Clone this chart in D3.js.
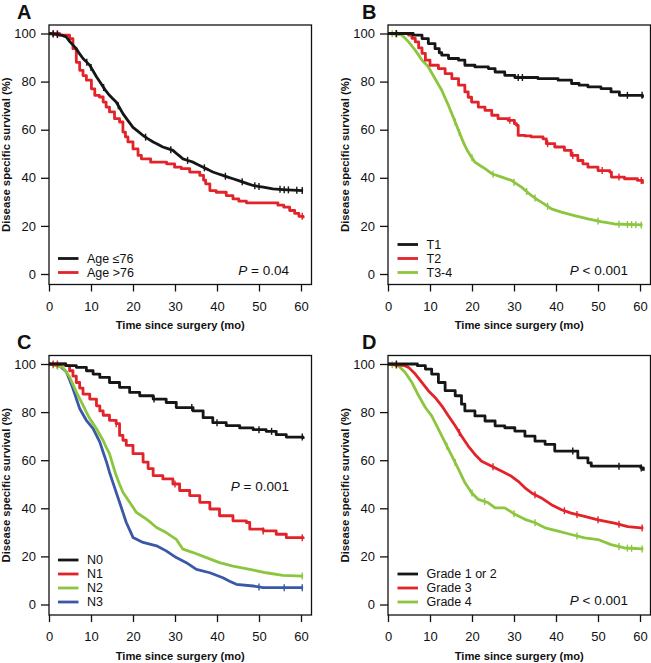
<!DOCTYPE html>
<html><head><meta charset="utf-8">
<script src="https://cdn.jsdelivr.net/npm/d3@7"></script>
<style>
body{margin:0;background:#fff}
svg{display:block}
text{font-family:"Liberation Sans",Arial,Helvetica,sans-serif;fill:#111}
</style>
</head><body>
<svg id="chart" width="651" height="663"></svg>
<script>
// ---------- data ----------
const xTicks = [0,10,20,30,40,50,60];
const yTicks = [0,20,40,60,80,100];
const xTitle = "Time since surgery (mo)";
const yTitle = "Disease specific survival (%)";
const panelLetters = ["A","B","C","D"];
const pValues = ["= 0.04","< 0.001","= 0.001","< 0.001"];

const legendA = ["Age \u226476","Age >76"];
const legendB = ["T1","T2","T3-4"];
const legendC = ["N0","N1","N2","N3"];
const legendD = ["Grade 1 or 2","Grade 3","Grade 4"];

const colBlack = "#161616", colRed = "#e2232a", colGreen = "#8cc63e", colBlue = "#3b58a8";

// survival curves: [time (mo), survival (%)]
const ageLe76 = [[0,100],[3,99.3],[4.1,98.6],[5,96.5],[6.5,93.7],[7.3,91.5],[8.1,89.6],[8.9,88.2],[9.7,86.8],[10.5,84.4],[11.3,82],[12.1,79.9],[12.9,77.8],[13.6,76],[14.4,74.3],[15.2,72.9],[16,71.5],[16.8,69.1],[17.6,66.7],[18.8,63.8],[20,61],[21.2,59.3],[22.4,57.6],[23.6,56.2],[24.8,54.9],[26,53.8],[27.1,52.8],[28.3,52.1],[29.5,51.4],[30.7,49.6],[31.9,47.9],[33.1,47.2],[34.3,46.5],[35.5,45.4],[36.7,44.4],[37.9,43.4],[39,42.4],[40.2,41.7],[41.4,41],[42.6,40.3],[43.8,39.6],[45,38.9],[46.2,38.2],[47.4,37.5],[48.6,36.8],[49.8,36.4],[51,36.1],[53.3,35.4],[55.7,35.1],[58,34.9],[60.5,34.7]];
const ageGt76 = [[0,100],[2.5,99.3],[4.9,97.9],[5.7,93.7],[6.5,88],[7.3,84.7],[8.1,82.5],[8.9,80.6],[10.1,77],[10.9,74.3],[12,73.6],[12.9,71.5],[13.6,69.4],[14.4,67.4],[15.6,64.6],[16.8,63.2],[17.6,59],[18.2,57],[18.8,54.9],[20,52],[21.2,49.3],[22,47.9],[24.2,46.5],[28,45.8],[29.9,44.4],[31.5,43.8],[33.5,42.4],[35.9,41],[36.8,39],[37.3,37.5],[38.3,34.7],[39.8,34],[42.2,32.6],[43.8,31.2],[45.2,30.3],[47,29.6],[54.5,28.6],[55.9,27.8],[57.3,26.4],[58.5,25.2],[59.5,24],[60.5,23.2]];

const t1 = [[0,100],[6,99.3],[8.1,97.9],[9.6,95.8],[11.2,93.7],[12.2,92],[12.8,91],[14.4,89.6],[16.8,88.9],[18.3,86.8],[20.7,86.1],[23.9,85.4],[25.5,84],[27.8,82.6],[30.2,81.7],[35.7,81.2],[40.5,80.6],[43.7,79.2],[45.5,78.5],[47.6,77.8],[50.7,77.1],[53.1,75.7],[55.1,74.3],[60.6,73.3]];
const t2 = [[0,100],[4.9,99.3],[5.7,98],[6.5,96.5],[7.3,94],[8.1,91.7],[8.9,88.9],[10,86.8],[12,85.4],[13.6,83.3],[15.2,81.2],[16.8,78.5],[18.3,75.7],[19.1,73.5],[19.9,71.5],[21.5,69.4],[23.1,68],[24.7,66],[26.2,64.6],[28.6,63.9],[30.1,62.5],[30.6,61.8],[31,57.6],[32.6,57.4],[34.1,57],[36.9,56.2],[37.7,54.2],[39.7,52.8],[42,51.4],[43.6,49.3],[45.2,47.2],[46.4,45.8],[47.6,44.4],[50,43],[52.8,42.4],[53.2,40.3],[56.3,39.6],[59.4,38.9],[60.6,37.5]];
const t34 = [[0,100],[1.5,99.8],[3.3,99.3],[4.1,98],[4.9,96.5],[5.7,94.8],[6.5,93],[7.3,91],[8.1,88.9],[8.9,87.5],[9.6,86.1],[10.4,83.7],[11.2,81.2],[12,78.8],[12.8,76.4],[13.6,73.2],[14.4,70.1],[15.2,66.6],[16,63.2],[16.8,59.7],[17.6,56.2],[18.3,53.4],[19.1,50.7],[19.9,48.6],[20.7,46.5],[21.9,45.1],[23.1,43.8],[24.7,41.7],[27.1,40.3],[29.4,38.9],[30.6,37.5],[31.8,36.1],[33,34.3],[34.2,32.6],[35.3,31.2],[36.5,29.9],[37.7,28.5],[38.9,27.1],[41.3,25.7],[44.4,24.3],[47.6,22.9],[50.7,21.8],[53.9,20.8],[60.6,20.4]];

const n0 = [[0,100],[4,99.3],[6.5,98.6],[8.9,97.2],[10.5,95.8],[12.1,94.4],[14.4,92.3],[16.8,90.3],[19.2,88.2],[21.6,86.8],[24.8,85.4],[27.9,84],[30.3,81.9],[34.3,80.5],[36.7,77.7],[39,75.6],[42.2,74.4],[45.4,73.4],[48.6,72.7],[51.7,72],[54.1,70.6],[56.5,69.6],[60.5,68.8]];
const n1 = [[0,100],[4,99.3],[4.9,97.2],[5.7,95],[6.5,92.3],[7.3,90],[8.1,87.5],[9.7,85.4],[11.3,82.6],[12.1,80.5],[12.9,78.7],[14.4,76.6],[16,75.2],[16.8,70.3],[17.6,68.3],[18.4,66.2],[20,62.7],[22.4,59.2],[23.6,56.5],[24.8,53.6],[27.1,52.2],[29.5,50.1],[31.1,47.4],[33.5,45.3],[35.9,42.5],[38.3,39.7],[40.6,36.9],[43.8,34.8],[47,34.1],[47.8,31.3],[51,30.6],[54.1,29.2],[56.5,27.8],[60.5,27.2]];
const n2 = [[0,100],[3.3,98.6],[4.1,96.6],[4.9,94.7],[5.7,91.5],[6.5,88.4],[7.3,85.6],[8.1,82.9],[8.9,80],[9.7,77.3],[10.5,75.2],[11.3,73.1],[12.1,70.6],[12.9,68.2],[13.6,65.4],[14.4,62.7],[15.2,58],[16,53.6],[16.8,50],[17.6,46.7],[18.4,44.6],[19.2,42.5],[20,40.4],[20.8,38.3],[22,36.9],[23.2,35.5],[24.4,33.8],[25.6,32],[27.9,29.9],[30.3,27.1],[31.1,25],[31.9,23],[34.3,21.6],[37.5,19.5],[40.6,17.4],[43.8,16],[47.8,14.6],[51.7,13.2],[55.7,12.1],[60.5,11.8]];
const n3 = [[0,100],[2.5,99.3],[4.1,96.8],[4.9,93.5],[5.7,89.8],[6.5,85.6],[7.3,81.5],[8.1,79],[8.9,76.6],[10.5,73.1],[11.3,70.3],[12.1,67.5],[12.9,63.3],[13.7,59.2],[14.4,55],[15.2,50.8],[16,46.6],[16.8,42.5],[17.6,38.3],[18.4,34.1],[19.2,31],[20,27.9],[22.4,25.8],[25.6,24.4],[27.9,22.3],[30.3,19.5],[32.7,17.4],[35.1,14.6],[38.3,13.2],[41.4,11.1],[43,9.7],[44.6,8.4],[48.6,7.7],[51,7],[60.5,7]];

const g12 = [[0,100],[7,99.3],[8.9,97.9],[10.4,95.8],[12,92.3],[13.6,88.9],[16,86.8],[17.5,83.3],[18.3,80.5],[20.7,78.4],[23.1,76.3],[25.5,74.3],[27.8,73.5],[30.2,72.1],[32.6,70],[35,67.9],[37.4,66.6],[39.7,63.8],[45.2,61],[47.6,58.9],[48.4,57.5],[60.2,56.8],[60.8,55.6]];
const g3 = [[0,100],[4,99.3],[4.9,98.6],[6.5,95.8],[8.1,92.3],[9.6,88.9],[11.2,86.1],[12.8,82.6],[14.4,78.4],[16,74.3],[17.5,70.1],[19.1,65.9],[20.7,62.4],[22.3,59.6],[24.7,57.5],[27.1,55.4],[29.4,53.3],[31,51.2],[32.6,48.5],[34.2,46.4],[36.5,44.3],[38.9,41.5],[41.3,39.4],[43.6,38],[46.8,36.6],[50,35.2],[53.9,33.8],[57.1,32.4],[60.8,31.8]];
const g4 = [[0,100],[2.5,99.3],[4.1,96.5],[5.7,92.3],[7.3,86.8],[8.9,81.9],[10.4,78.4],[12,72.9],[13.6,67.3],[15.2,61.8],[16.8,56.2],[18.3,50.7],[19.9,46.5],[21.5,43.7],[23.9,42.3],[25.5,40.2],[27.8,40.2],[30.2,37.5],[32.6,35.4],[35,34],[37.4,31.9],[40.5,30.5],[43.6,29.1],[46.8,27.7],[50,27],[53.1,24.9],[56.3,23.5],[60.8,23.1]];

// censoring times (mo)
const censAgeLe76 = [1,2,9,10,13,16.5,23,29,33,37,42,46,49,50,55,56,57,59,60.3];
const censAgeGt76 = [1,2,60.3];
const censT1 = [2,31,32,57,60.5];
const censT2 = [2,29,38,44,51,55,60.3];
const censT34 = [1,2,16,17,20,25,30,33,35,38,50,55,57,58,59,60.3];
const censN0 = [25,34,40,50,53,60.3];
const censN1 = [1,2,16,30,51,60.3];
const censN2 = [1,2,60.3];
const censN3 = [2,50,56,60.3];
const censG12 = [2,44,55,60.3];
const censG3 = [2,17,25,35,42,45,50,55,60.5];
const censG4 = [1,2,14,16,20,23,30,35,45,55,57,58,60.5];

// ---------- layout / style ----------
// series entries: [curve, colour, censor times, drawn as visible steps?]
const panels = [
  {ox:0,   oy:0,     letterX:17, legend:legendA, series:[[ageLe76,colBlack,censAgeLe76,false],[ageGt76,colRed,censAgeGt76,true]], legY:258.5, legX:58, pY:270},
  {ox:339, oy:0,     letterX:23, legend:legendB, series:[[t1,colBlack,censT1,true],[t2,colRed,censT2,true],[t34,colGreen,censT34,false]], legY:244.5, legX:58.5, pY:270},
  {ox:0,   oy:330.5, letterX:17, legend:legendC, series:[[n0,colBlack,censN0,true],[n1,colRed,censN1,true],[n2,colGreen,censN2,false],[n3,colBlue,censN3,false]], legY:229.5, legX:58, pY:156},
  {ox:339, oy:330.5, letterX:23, legend:legendD, series:[[g12,colBlack,censG12,true],[g3,colRed,censG3,false],[g4,colGreen,censG4,false]], legY:243.5, legX:58.5, pY:270}
];
const box = {l:49, r:311.5, t:25, b:284.5};
const x = d3.scaleLinear().domain([0,62.5]).range([box.l, box.r]);
const y = d3.scaleLinear().domain([0,100]).range([274, 33.5]);

const svg = d3.select("#chart");

function survAt(curve, t, stepped){
  if (stepped){
    let s = curve[0][1];
    for (const [ti,si] of curve){ if (ti <= t) s = si; else break; }
    return s;
  }
  for (let k=1;k<curve.length;k++){
    const [t0,s0]=curve[k-1],[t1_,s1]=curve[k];
    if (t <= t1_) return s0 + (s1-s0)*(t-t0)/(t1_-t0);
  }
  return curve[curve.length-1][1];
}

panels.forEach((p,i)=>{
  const g = svg.append("g").attr("transform",`translate(${p.ox},${p.oy})`);

  // curves
  p.series.slice().reverse().forEach(([curve,col,cens,stepped])=>{
    const line = d3.line().x(d=>x(d[0])).y(d=>y(d[1]))
      .curve(stepped ? d3.curveStepAfter : d3.curveLinear);
    g.append("path").datum(curve).attr("d",line)
      .attr("fill","none").attr("stroke",col).attr("stroke-width",2.8)
      .attr("stroke-linejoin","round");
    g.selectAll(null).data(cens).enter().append("line")
      .attr("x1",t=>x(t)).attr("x2",t=>x(t))
      .attr("y1",t=>y(survAt(curve,t,stepped))-3.5).attr("y2",t=>y(survAt(curve,t,stepped))+3.5)
      .attr("stroke",col).attr("stroke-width",1.4);
  });

  // frame
  g.append("rect").attr("x",box.l).attr("y",box.t)
    .attr("width",box.r-box.l).attr("height",box.b-box.t)
    .attr("fill","none").attr("stroke","#111").attr("stroke-width",1.3);

  // axes
  const ax = g.append("g").attr("transform",`translate(0,${box.b})`)
    .call(d3.axisBottom(x).tickValues(xTicks).tickSize(7).tickPadding(10).tickSizeOuter(0));
  ax.select(".domain").remove();
  ax.selectAll("line").attr("stroke","#111").attr("stroke-width",1.3);
  ax.selectAll("text").attr("font-size",13).attr("fill","#111")
    .attr("font-family","'Liberation Sans',Arial,sans-serif");

  const ay = g.append("g").attr("transform",`translate(${box.l},0)`)
    .call(d3.axisLeft(y).tickValues(yTicks).tickSize(8).tickPadding(5).tickSizeOuter(0));
  ay.select(".domain").remove();
  ay.selectAll("line").attr("stroke","#111").attr("stroke-width",1.3);
  ay.selectAll("text").attr("font-size",13).attr("fill","#111")
    .attr("font-family","'Liberation Sans',Arial,sans-serif");

  // titles
  g.append("text").attr("x",(box.l+box.r)/2).attr("y",329)
    .attr("text-anchor","middle").attr("font-size",11.2).attr("font-weight","bold")
    .text(xTitle);
  g.append("text").attr("transform",`translate(10,${(box.t+box.b)/2}) rotate(-90)`)
    .attr("text-anchor","middle").attr("font-size",11.3).attr("font-weight","bold")
    .text(yTitle);

  // panel letter
  g.append("text").attr("x",p.letterX).attr("y",18.5)
    .attr("font-size",20).attr("font-weight","bold").text(panelLetters[i]);

  // legend
  p.legend.forEach((lab,k)=>{
    const ly = p.legY + k*14;
    g.append("line").attr("x1",p.legX).attr("x2",p.legX+20.5)
      .attr("y1",ly).attr("y2",ly).attr("stroke",p.series[k][1]).attr("stroke-width",2.8);
    g.append("text").attr("x",p.legX+29).attr("y",ly+4.3)
      .attr("font-size",12.5).text(lab);
  });

  // P value
  const pt = g.append("text").attr("x",289).attr("y",p.pY+4.7)
    .attr("text-anchor","end").attr("font-size",13.5);
  pt.append("tspan").attr("font-style","italic").text("P");
  pt.append("tspan").text(" " + pValues[i]);
});
</script>
</body></html>
